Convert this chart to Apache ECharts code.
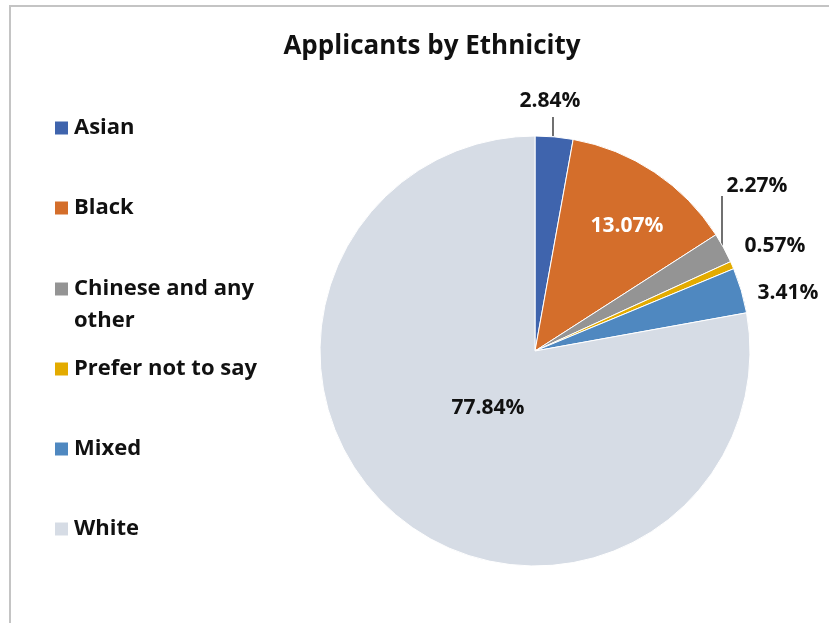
<!DOCTYPE html>
<html>
<head>
<meta charset="utf-8">
<script src="https://cdn.jsdelivr.net/npm/echarts@6/dist/echarts.min.js"></script>
<style>
  html, body { margin: 0; padding: 0; background: #fff; overflow: hidden; }
  #frame { position: absolute; left: 9px; top: 5px; width: 900px; height: 700px;
           border-left: 2px solid #c4c4c4; border-top: 2px solid #c4c4c4; }
  #chart { position: absolute; left: 0; top: 0; width: 829px; height: 623px; }
</style>
</head>
<body>
<div id="frame"></div>
<div id="chart"></div>
<script>
// data
var categories = ['Asian', 'Black', 'Chinese and any other', 'Prefer not to say', 'Mixed', 'White'];
var shares = [2.84, 13.07, 2.27, 0.57, 3.41, 77.84];
var colors = ['#3f64ad', '#d46e2b', '#949494', '#e3ab00', '#4f88c0', '#d6dce5'];

// label spots (center of text) and leader lines, per slice
var labelPos = [[550, 101], [627, 226], [757, 186], [775, 246], [788, 293], [488, 408]];
var leaders = [
    [[553, 136], [553, 117], [553, 117]],
    null,
    [[722, 248], [722, 196], [722, 196]],
    null, null, null
];
var legendY = [128, 208, 289, 369, 449, 529];

var mychart = echarts.init(document.getElementById('chart'));

var fontFam = '"Open Sans", Lato, sans-serif';

// one legend per item so the two-line label keeps its icon on the first line
var legends = categories.map(function (name, i) {
    var twoLine = name.indexOf('Chinese') === 0;
    return {
        data: [name],
        orient: 'vertical',
        left: 53,
        top: twoLine ? legendY[i] - 48 : legendY[i] - 16,
        padding: 0,
        itemWidth: 15,
        itemHeight: 15,
        itemGap: 0,
        icon: 'rect',
        selectedMode: false,
        formatter: function (n) {
            // leading blank line keeps "Chinese and any" level with the icon
            return n === 'Chinese and any other' ? ' \nChinese and any\nother' : n;
        },
        textStyle: {
            fontFamily: fontFam,
            fontWeight: 'bold',
            fontSize: 22,
            color: '#111',
            lineHeight: 32
        }
    };
});

var option = {
    color: colors,
    title: {
        text: 'Applicants by Ethnicity',
        left: 427,
        textAlign: 'center',
        top: 29,
        textStyle: {
            fontFamily: fontFam,
            fontWeight: 'bold',
            fontSize: 26,
            color: '#111'
        }
    },
    legend: legends,
    series: [{
        name: 'Ethnicity',
        type: 'pie',
        center: [535, 351],
        radius: 215,
        startAngle: 90,
        clockwise: true,
        animation: false,
        itemStyle: { borderColor: '#fff', borderWidth: 1 },
        label: {
            show: true,
            fontFamily: fontFam,
            fontWeight: 'bold',
            fontSize: 21,
            color: '#111',
            formatter: function (p) { return p.value.toFixed(2) + '%'; }
        },
        labelLine: { show: true, length: 5, length2: 5, lineStyle: { color: '#111', width: 1.2 } },
        labelLayout: function (p) {
            var i = p.dataIndex;
            var res = {
                x: labelPos[i][0],
                y: labelPos[i][1],
                align: 'center',
                verticalAlign: 'middle'
            };
            if (leaders[i]) res.labelLinePoints = leaders[i];
            return res;
        },
        data: categories.map(function (name, i) {
            var d = { name: name, value: shares[i] };
            if (!leaders[i]) d.labelLine = { show: false };
            if (name === 'Black') d.label = { color: '#fff' };
            return d;
        })
    }]
};

mychart.setOption(option);
</script>
</body>
</html>
